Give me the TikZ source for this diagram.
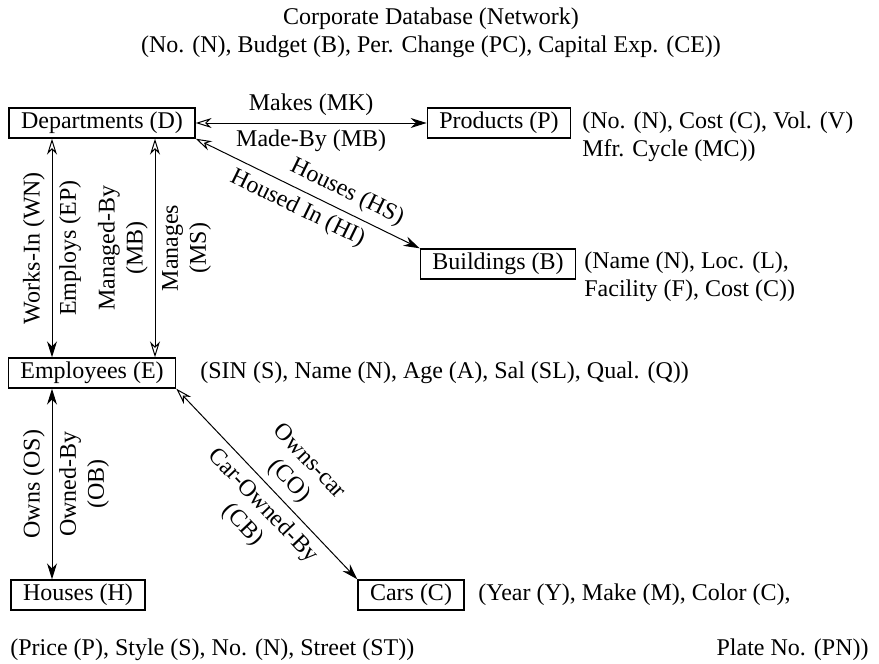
\documentclass[tikz,border=0pt]{standalone}
\usepackage{fontspec}
\setmainfont{Liberation Serif}
\usetikzlibrary{arrows.meta}

\begin{document}
\begin{tikzpicture}[x=0.5pt, y=-0.5pt, font=\fontsize{12}{14}\selectfont,
  entity/.style={draw, line width=0.7pt, inner xsep=6pt, inner ysep=0pt, minimum height=15pt},
  attr/.style={inner sep=0pt, align=left},
  tipfill/.tip={Stealth[length=8pt, width=5pt]},
  tipopen/.tip={Stealth[open, length=8pt, width=5pt]},
  rel/.style={line width=0.5pt, tipopen-tipfill},
  relopen/.style={line width=0.5pt, tipopen-tipopen},
  relfill/.style={line width=0.5pt, tipfill-tipfill}]
\useasboundingbox (0,0) rectangle (879,664);

\node[align=center] (title) at (431,33) {Corporate Database (Network)\\(No. (N), Budget (B), Per. Change (PC), Capital Exp. (CE))};

% record types
\node[entity] (dept) at (102,123) {Departments (D)};
\node[entity] (prod) at (499,123) {Products (P)};
\node[entity] (bldg) at (498,264) {Buildings (B)};
\node[entity] (emp) at (92,373) {Employees (E)};
\node[entity] (house) at (78,595) {Houses (H)};
\node[entity] (car) at (411,595) {Cars (C)};

% attribute lists
\node[attr, anchor=west] (prodattr) at (582,137) {(No. (N), Cost (C), Vol. (V)\\Mfr. Cycle (MC))};
\node[attr, anchor=west] (bldgattr) at (584,277) {(Name (N), Loc. (L),\\Facility (F), Cost (C))};
\node[attr, anchor=west] (empattr) at (200,373) {(SIN (S), Name (N), Age (A), Sal (SL), Qual. (Q))};
\node[attr, anchor=west] (carattr) at (478,595) {(Year (Y), Make (M), Color (C),};
\node[attr, anchor=west] (houseattr) at (10,650) {(Price (P), Style (S), No. (N), Street (ST))};
\node[attr, anchor=east] (plate) at (869,650) {Plate No. (PN))};

% sets
\coordinate (wn) at (52,0);
\coordinate (ms) at (155,0);
\draw[rel] (dept) -- (prod) node[midway, above] {Makes (MK)} node[midway, below] {Made-By (MB)};
\draw[rel] (dept.south east) -- (bldg.north west)
  node[pos=.64, sloped, above] {Houses (HS)}
  node[pos=.49, sloped, below] {Housed In (HI)};
\draw[rel] (wn |- dept.south) -- (wn |- emp.north)
  node[midway, rotate=90, anchor=south] {Works-In (WN)}
  node[midway, rotate=90, anchor=north] {Employs (EP)};
\draw[relopen] (ms |- dept.south) -- (ms |- emp.north)
  node[midway, rotate=90, anchor=south, align=center] {Managed-By\\(MB)}
  node[midway, rotate=90, anchor=north, align=center] {Manages\\(MS)};
\draw[relfill] (wn |- emp.south) -- (wn |- house.north)
  node[midway, rotate=90, anchor=south] {Owns (OS)}
  node[midway, rotate=90, anchor=north, align=center] {Owned-By\\(OB)};
\draw[rel] (emp.south east) -- (car.north west)
  node[pos=.55, sloped, above, align=center] {Owns-car\\(CO)}
  node[pos=.55, sloped, below, align=center] {Car-Owned-By\\(CB)};
\end{tikzpicture}
\end{document}
